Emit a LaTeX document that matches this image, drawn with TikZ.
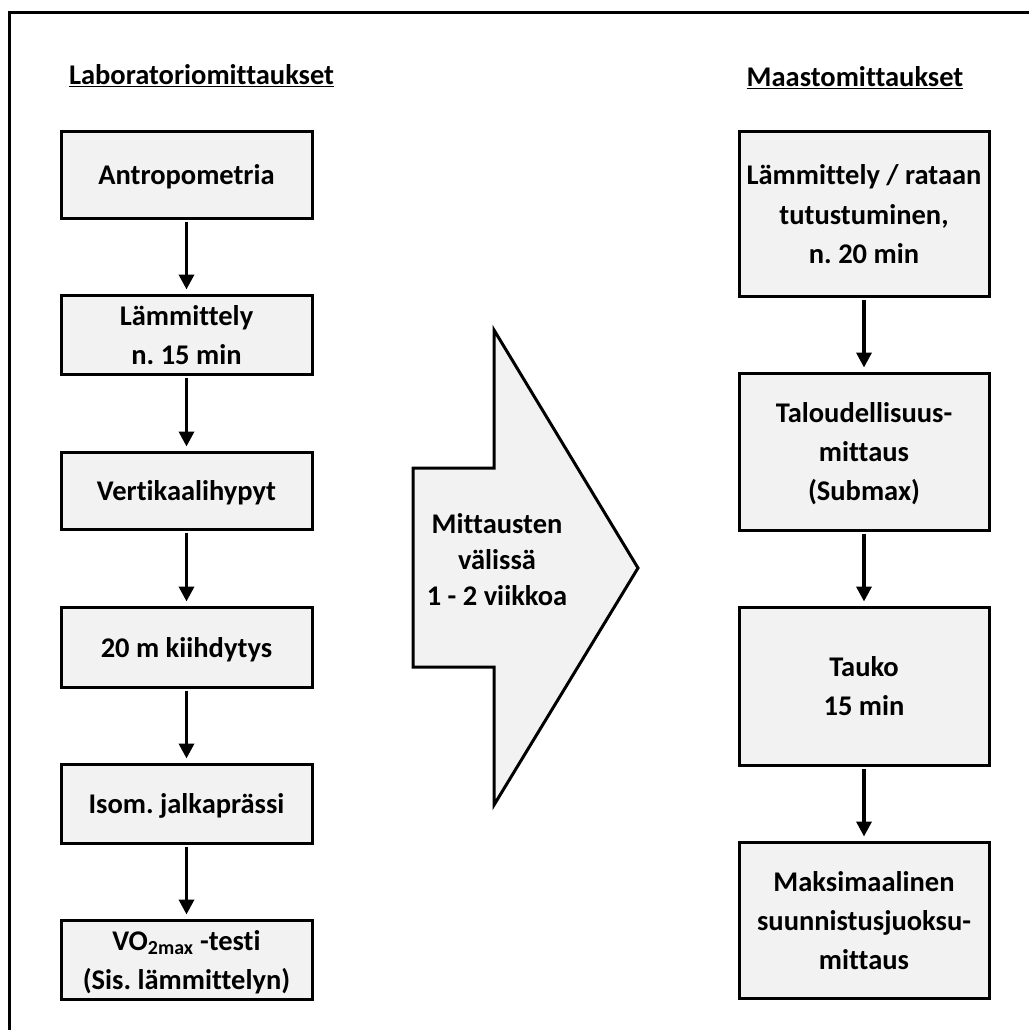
\documentclass[tikz,border=0pt]{standalone}
\usepackage{fontspec}
\setmainfont{Carlito}[Ligatures=NoCommon]
\usetikzlibrary{arrows.meta}
\definecolor{boxfill}{RGB}{242,242,242}
\tikzset{
  stepbox/.style={draw=black, line width=3pt, fill=boxfill, align=center, inner sep=0pt,
    text depth=0pt, font=\bfseries\fontsize{28.5}{39}\selectfont},
  lbox/.style={stepbox, minimum width=251pt},
  rbox/.style={stepbox, minimum width=250pt},
  flow/.style={line width=3.5pt, -{Triangle[width=15pt,length=15pt]}, shorten >=4pt, shorten <=2pt},
  heading/.style={anchor=base, font=\bfseries\fontsize{28.5}{39}\selectfont}
}
\begin{document}
\begin{tikzpicture}[x=1pt,y=-1pt]
\useasboundingbox (0,0) rectangle (1028,1030);
% outer frame (only left and top edges visible)
\draw[line width=3pt] (9,1032) -- (9,13) -- (1030,13);
% headings
\node[heading] (h1) at (201.5,85) {\underline{Laboratoriomittaukset}};
\node[heading] (h2) at (855,87) {\underline{Maastomittaukset}};
% left column
\node[lbox, minimum height=86pt] (a1) at (186.5,175) {Antropometria};
\node[lbox, minimum height=79pt] (a2) at (186.5,334.5) {Lämmittely\\n.\ 15 min};
\node[lbox, minimum height=77pt] (a3) at (186.5,490.5) {Vertikaalihypyt};
\node[lbox, minimum height=80pt] (a4) at (186.5,647) {20 m kiihdytys};
\node[lbox, minimum height=79pt] (a5) at (186.5,803.5) {Isom.\ jalkaprässi};
\node[lbox, minimum height=79pt] (a6) at (186.5,959.5) {VO\textsubscript{2max} -testi\\(Sis.\ lämmittelyn)};
\draw[flow] (a1) -- (a2);
\draw[flow] (a2) -- (a3);
\draw[flow] (a3) -- (a4);
\draw[flow] (a4) -- (a5);
\draw[flow] (a5) -- (a6);
% right column
\node[rbox, minimum height=164pt] (b1) at (864,214) {Lämmittely / rataan\\tutustuminen,\\n.\ 20 min};
\node[rbox, minimum height=157pt] (b2) at (864,451.5) {Taloudellisuus-\\mittaus\\(Submax)};
\node[rbox, minimum height=158pt] (b3) at (864,686) {Tauko\\15 min};
\node[rbox, minimum height=156pt] (b4) at (864,920) {Maksimaalinen\\suunnistusjuoksu-\\mittaus};
\draw[flow] (b1) -- (b2);
\draw[flow] (b2) -- (b3);
\draw[flow] (b3) -- (b4);
% big arrow
\draw[line width=3pt, fill=boxfill, line join=miter]
  (413,468) -- (494,468) -- (494,330) -- (638,568) -- (494,805) -- (494,667) -- (413,667) -- cycle;
\node[align=center, font=\bfseries\fontsize{28.5}{36}\selectfont] (mid) at (497,560) {Mittausten\\välissä\\1 - 2 viikkoa};
\end{tikzpicture}
\end{document}
